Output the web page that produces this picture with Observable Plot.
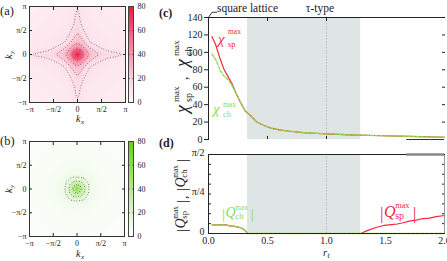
<!DOCTYPE html>
<html>
<head>
<meta charset="utf-8">
<script src="https://cdn.jsdelivr.net/npm/d3@7"></script>
<script src="https://cdn.jsdelivr.net/npm/@observablehq/plot@0.6"></script>
<style>
  html, body { margin: 0; padding: 0; background: #fff; }
  #fig { position: relative; width: 447px; height: 261px; overflow: hidden; background: #fff; }
  #fig > svg { position: absolute; left: 0; top: 0; }
  #fig svg, #fig svg text { font-family: "Liberation Serif", "Times New Roman", Times, "DejaVu Serif", serif !important; }
</style>
</head>
<body>
<div id="fig"></div>
<script>
const PI = Math.PI;

// ---------- panels (a), (b): one quadrant of each map (k in units of π); maps are 4-fold symmetric
const kQuad = [0, 1/12, 1/6, 1/4, 1/3, 1/2, 2/3, 5/6, 1];
const chiSpMap = [
  [80,   64, 42,   30,   24,  18,   15.5, 13.5, 11],
  [64,   54, 35,   25,   20,  14,   11,   10,   9],
  [42,   35, 26,   18,   14,  10.5, 9,    8.5,  8],
  [30,   25, 18,   12.5, 11,  9,    8,    7.5,  7],
  [24,   20, 14,   11,   10,  8.5,  7.5,  7,    6.5],
  [18,   14, 10.5, 9,    8.5, 7.5,  7,    6.5,  6],
  [15.5, 11, 9,    8,    7.5, 7,    6.5,  6,    6],
  [13.5, 10, 8.5,  7.5,  7,   6.5,  6,    6,    5.5],
  [11,   9,  8,    7,    6.5, 6,    6,    5.5,  5.5]
];
const chiChMap = [
  [60,  40,  22,  13,   9,   6,   4.5, 4,   3.5],
  [40,  33,  20,  12.5, 8.8, 6,   4.5, 4,   3.5],
  [22,  20,  15,  10.5, 8,   5.8, 4.5, 4,   3.5],
  [13,  12.5,10.5,8.5,  7,   5.5, 4.3, 4,   3.5],
  [9,   8.8, 8,   7,    6.5, 5.2, 4.2, 3.8, 3.4],
  [6,   6,   5.8, 5.5,  5.2, 4.5, 4,   3.7, 3.3],
  [4.5, 4.5, 4.5, 4.3,  4.2, 4,   3.7, 3.5, 3.2],
  [4,   4,   4,   4,    3.8, 3.7, 3.5, 3.3, 3.1],
  [3.5, 3.5, 3.5, 3.5,  3.4, 3.3, 3.2, 3.1, 3]
];
const spContourLevels = [12, 20, 32, 55];
const chContourLevels = [13, 22, 38];
const kTicks = [-PI, -PI / 2, 0, PI / 2, PI];
const kTickLabels = ["−π", "−π/2", "0", "π/2", "π"];
const colorbarTicks = [0, 20, 40, 60, 80];

// ---------- panel (c): maximum susceptibilities vs r_t
const rChi  = [0.03, 0.06, 0.10, 0.13, 0.17, 0.20, 0.23, 0.27, 0.31, 0.36, 0.41, 0.47, 0.53, 0.60, 0.69, 0.80, 0.90, 1.00, 1.20, 1.40, 1.60, 1.80, 2.00];
const chiSp = [118,  109,  92,   81,   71,   64,   54,   43,   33,   27,   20,   16,   13,   11,   9.5,  8,    7.2,  6.5,  5.4,  4.6,  3.9,  3.2,  2.6];
const chiCh = [98,   92,   79,   73,   68,   62,   54,   43,   33,   27,   20,   16,   13,   11,   9.5,  8,    7.2,  6.5,  5.4,  4.6,  3.9,  3.2,  2.6];
const chiTicks = [0, 20, 40, 60, 80, 100, 120, 140];
const chiRightTicks = [20, 40, 60, 80, 100, 120];
const topTicks = [0.5, 1];
const shadedRange = [0.33, 1.29];
const tauTypeR = [1];
const squareLeader = [{r: 0, v: 140}, {r: 0.03, v: 146}, {r: 0.07, v: 146}];
const cBottomSegment = [1.68, 2];

// ---------- panel (d): |Q| (units of π) vs r_t
const rQsp = [0.03, 0.10, 0.15, 0.18, 0.22, 0.25, 0.28, 0.31, 0.33, 0.60, 1.00, 1.29, 1.35, 1.42, 1.49, 1.55, 1.60, 1.65, 1.71, 1.76, 1.80, 1.87, 1.93, 2.00];
const qSp  = [0.055,0.055,0.055,0.048,0.045,0.040,0.035,0.020,0,    0,    0,    0,    0.020,0.038,0.052,0.056,0.060,0.068,0.080,0.085,0.092,0.097,0.107,0.114];
const rQch = [0.03, 0.10, 0.15, 0.18, 0.22, 0.25, 0.28, 0.31, 0.33, 1.00, 2.00];
const qCh  = [0.055,0.055,0.055,0.048,0.045,0.040,0.035,0.020,0,    0,    0];
const qTicks = [0, PI / 4, PI / 2];
const qTickLabels = ["0", "π/4", "π/2"];
const qMinorSixteenths = [1, 2, 3, 4, 5, 6, 7];
const rTicks = [0, 0.5, 1, 1.5, 2];
const dTopSegment = [1.68, 2];

// ---------- styles
const W = 447, H = 261;
const SERIF = "Liberation Serif, Times New Roman, Times, DejaVu Serif, serif";
const baseStyle = {background: "transparent", fontFamily: SERIF, fontSize: "10px", color: "#222", overflow: "visible"};
const spColor = {type: "linear", domain: [0, 6, 15, 25, 40, 60, 80],
  range: ["#ffffff", "#fdebf1", "#fcdce6", "#fbc2d1", "#f995ae", "#f6587a", "#ee1838"], clamp: true};
const chColor = {type: "linear", domain: [0, 10, 20, 40, 60, 80],
  range: ["#ffffff", "#f0faea", "#ddf5cc", "#b4ea8c", "#8ddf4c", "#62d210"], clamp: true};
const RED = "#ee2a3c", GREEN = "#8edc46";

const fig = document.getElementById("fig");

function mirror(quad) {
  const signed = [];
  for (let i = kQuad.length - 1; i > 0; i--) signed.push({k: -kQuad[i], i});
  for (let i = 0; i < kQuad.length; i++) signed.push({k: kQuad[i], i});
  const out = [];
  for (const sy of signed) for (const sx of signed) out.push({kx: sx.k * PI, ky: sy.k * PI, v: quad[sy.i][sx.i]});
  return out;
}
const kLabel = d => kTickLabels[kTicks.findIndex(t => Math.abs(t - d) < 1e-9)];
const blank = () => "";

function heatmap(samples, color, levels, top, bottom, right) {
  return Plot.plot({
    width: W, height: H,
    marginLeft: 29, marginRight: W - right, marginTop: top, marginBottom: H - bottom,
    style: baseStyle,
    x: {domain: [-PI, PI]}, y: {domain: [-PI, PI]},
    color,
    marks: [
      Plot.raster(samples, {x: "kx", y: "ky", fill: "v", interpolate: "barycentric", x1: -PI, x2: PI, y1: -PI, y2: PI}),
      Plot.contour(samples, {x: "kx", y: "ky", value: "v", interpolate: "barycentric", x1: -PI, x2: PI, y1: -PI, y2: PI,
        thresholds: levels, pixelSize: 1, fill: "none", stroke: "#3a3a3a", strokeWidth: 0.8, strokeDasharray: "0.8,1.9"}),
      Plot.axisX(kTicks, {anchor: "bottom", tickSize: 0, tickPadding: 4, tickFormat: kLabel, fontSize: 8, label: null}),
      Plot.axisY(kTicks, {anchor: "left", tickSize: 0, tickPadding: 3, tickFormat: kLabel, fontSize: 8, label: null}),
      Plot.axisX(kTicks.slice(1, -1), {anchor: "bottom", tickSize: -3, tickFormat: blank, label: null}),
      Plot.axisX(kTicks.slice(1, -1), {anchor: "top", tickSize: -3, tickFormat: blank, label: null}),
      Plot.axisY(kTicks.slice(1, -1), {anchor: "left", tickSize: -3, tickFormat: blank, label: null}),
      Plot.axisY(kTicks.slice(1, -1), {anchor: "right", tickSize: -3, tickFormat: blank, label: null}),
      Plot.frame({stroke: "#333"})
    ]
  });
}

function colorbar(color, top, bottom) {
  return Plot.plot({
    width: W, height: H,
    marginLeft: 128, marginRight: W - 133, marginTop: top, marginBottom: H - bottom,
    style: baseStyle,
    x: {domain: [0, 1], axis: null}, y: {domain: [0, 80]},
    color,
    marks: [
      Plot.raster({fill: (x, y) => y, x1: 0, x2: 1, y1: 0, y2: 80}),
      Plot.axisY(colorbarTicks, {anchor: "right", tickSize: 0, tickPadding: 4, fontSize: 8, label: null}),
      Plot.axisY(colorbarTicks.slice(1, -1), {anchor: "right", tickSize: -1.5, tickFormat: blank, label: null}),
      Plot.axisY(colorbarTicks.slice(1, -1), {anchor: "left", tickSize: -1.5, tickFormat: blank, label: null}),
      Plot.frame({stroke: "#444"})
    ]
  });
}

fig.appendChild(heatmap(mirror(chiSpMap), spColor, spContourLevels, 6, 102, 125));
fig.appendChild(colorbar(spColor, 6, 102));
fig.appendChild(heatmap(mirror(chiChMap), chColor, chContourLevels, 141, 236, 124));
fig.appendChild(colorbar(chColor, 141, 236));

// ---------- panel (c)
const chiSpData = rChi.map((r, i) => ({r, v: chiSp[i]}));
const chiChData = rChi.map((r, i) => ({r, v: chiCh[i]}));
fig.appendChild(Plot.plot({
  width: W, height: H,
  marginLeft: 208, marginRight: W - 444, marginTop: 17, marginBottom: H - 139,
  style: baseStyle,
  x: {domain: [0, 2]}, y: {domain: [0, 140]},
  marks: [
    Plot.rect([shadedRange], {x1: d => d[0], x2: d => d[1], fill: "#dfe5e4"}),
    Plot.ruleX(tauTypeR, {stroke: "#b8bcbc", strokeDasharray: "1.5,1.5"}),
    Plot.line(chiSpData, {x: "r", y: "v", stroke: RED, strokeWidth: 1.2}),
    Plot.line(chiChData, {x: "r", y: "v", stroke: GREEN, strokeWidth: 1.3, strokeDasharray: "3,1.6"}),
    Plot.line(squareLeader, {x: "r", y: "v", stroke: "#222", strokeWidth: 0.9}),
    Plot.axisY(chiTicks, {anchor: "left", tickSize: 4, tickPadding: 2, fontSize: 10, label: null}),
    Plot.axisY(chiRightTicks, {anchor: "right", tickSize: -3, tickFormat: blank, label: null}),
    Plot.axisX(topTicks, {anchor: "top", tickSize: -3, tickFormat: blank, label: null}),
    Plot.axisX(topTicks, {anchor: "bottom", tickSize: -3, tickFormat: blank, label: null}),
    Plot.ruleY([0], {x1: cBottomSegment[0], x2: cBottomSegment[1], stroke: "#333"}),
    Plot.frame({anchor: "left", stroke: "#222"}),
    Plot.frame({anchor: "top", stroke: "#222"})
  ]
}));

// ---------- panel (d)
const qSpData = rQsp.map((r, i) => ({r, q: qSp[i] * PI}));
const qChData = rQch.map((r, i) => ({r, q: qCh[i] * PI}));
const qMinor = qMinorSixteenths.map(k => k * PI / 16);
fig.appendChild(Plot.plot({
  width: W, height: H,
  marginLeft: 208, marginRight: W - 444, marginTop: 154, marginBottom: H - 233,
  style: baseStyle,
  x: {domain: [0, 2]}, y: {domain: [0, PI / 2]},
  marks: [
    Plot.rect([shadedRange], {x1: d => d[0], x2: d => d[1], fill: "#dfe5e4"}),
    Plot.ruleX(tauTypeR, {stroke: "#b8bcbc", strokeDasharray: "1.5,1.5"}),
    Plot.line(qSpData, {x: "r", y: "q", stroke: RED, strokeWidth: 1.2}),
    Plot.line(qChData, {x: "r", y: "q", stroke: GREEN, strokeWidth: 1.3, strokeDasharray: "3,1.6"}),
    Plot.axisY(qTicks, {anchor: "left", tickSize: 0, tickPadding: 4, fontSize: 10, label: null, dy: -2,
      tickFormat: d => qTickLabels[qTicks.findIndex(t => Math.abs(t - d) < 1e-9)]}),
    Plot.axisY(qMinor, {anchor: "left", tickSize: -3, tickFormat: blank, label: null}),
    Plot.axisY(qMinor, {anchor: "right", tickSize: -3, tickFormat: blank, label: null}),
    Plot.axisX(rTicks, {anchor: "bottom", tickSize: 0, tickPadding: 3, fontSize: 10, label: null}),
    Plot.frame({stroke: "#9a9a9a"}),
    Plot.frame({anchor: "top", stroke: "#222"}),
    Plot.frame({anchor: "left", stroke: "#222"}),
    Plot.frame({anchor: "bottom", stroke: "#222"}),
    Plot.ruleY([PI / 2], {x1: dTopSegment[0], x2: dTopSegment[1], stroke: "#888", strokeWidth: 2.5})
  ]
}));

// ---------- text overlay (rich labels)
const ov = d3.create("svg").attr("width", W).attr("height", H)
  .style("font-family", SERIF).attr("fill", "#222");
function txt(g, x, y, s, size, opt = {}) {
  const t = g.append("text").attr("x", x).attr("y", y).attr("font-size", size).text(s);
  if (opt.italic) t.attr("font-style", "italic");
  if (opt.bold) t.attr("font-weight", "bold");
  if (opt.color) t.attr("fill", opt.color);
  if (opt.anchor) t.attr("text-anchor", opt.anchor);
  return t;
}
const root = ov.append("g");
// panel letters
txt(root, 0, 15, "(a)", 12.5);
txt(root, 0, 145, "(b)", 12.5);
txt(root, 159, 17, "(c)", 12, {bold: true});
txt(root, 159, 147, "(d)", 12, {bold: true});
// k labels
function kAxisLabels(cx, by, ry) {
  const gx = root.append("g");
  txt(gx, cx - 4, by, "k", 10, {italic: true});
  txt(gx, cx + 1, by + 2, "x", 7, {italic: true});
  const gy = root.append("g").attr("transform", `translate(12,${ry}) rotate(-90)`);
  txt(gy, -4, 0, "k", 10, {italic: true});
  txt(gy, 1, 2, "y", 7, {italic: true});
}
kAxisLabels(80, 122, 55);
kAxisLabels(80, 257, 189);
// top annotations
txt(root, 217, 12, "square lattice", 11.5);
txt(root, 320, 12, "τ-type", 11.5, {anchor: "middle"});
// chi curve labels
txt(root, 218, 44, "χ", 15, {italic: true, color: RED});
txt(root, 228, 33.5, "max", 7.5, {color: RED});
txt(root, 228, 47, "sp", 8.5, {color: RED});
txt(root, 213, 114, "χ", 15, {italic: true, color: GREEN});
txt(root, 223, 107, "max", 7.5, {color: GREEN});
txt(root, 223, 117, "ch", 8.5, {color: GREEN});
// Q curve labels
function qLabel(g, x, y, sub, size, color) {
  const s = size;
  txt(g, x, y + 1, "|", s * 1.1, {color});
  txt(g, x + s * 0.25, y - 1, "Q", s, {italic: true, color});
  txt(g, x + s * 0.95, y - s * 0.6, "max", s * 0.52, {color});
  txt(g, x + s * 0.95, y + 1, sub, s * 0.62, {color});
  txt(g, x + s * 2.05, y + 1, "|", s * 1.1, {color});
}
qLabel(root, 222, 218, "ch", 14, GREEN);
qLabel(root, 380, 218, "sp", 16, RED);
// rotated y labels
const gc = root.append("g").attr("transform", "translate(188,113) rotate(-90)");
txt(gc, 0, 0, "χ", 18, {italic: true});
txt(gc, 11, -9.5, "max", 9);
txt(gc, 11, 3.5, "sp", 10);
txt(gc, 33, 0, ",", 14);
txt(gc, 46, 0, "χ", 18, {italic: true});
txt(gc, 57, -9.5, "max", 9);
txt(gc, 57, 3.5, "ch", 10);
const gd = root.append("g").attr("transform", "translate(186,232) rotate(-90)");
qLabel(gd, 0, 0, "sp", 14, "#222");
txt(gd, 33, 1, ",", 13);
qLabel(gd, 41, 0, "ch", 14, "#222");
// x label r_t
txt(root, 323, 256, "r", 10.5, {italic: true});
txt(root, 327.5, 258, "t", 7.5, {italic: true});

fig.appendChild(ov.node());
</script>
</body>
</html>
